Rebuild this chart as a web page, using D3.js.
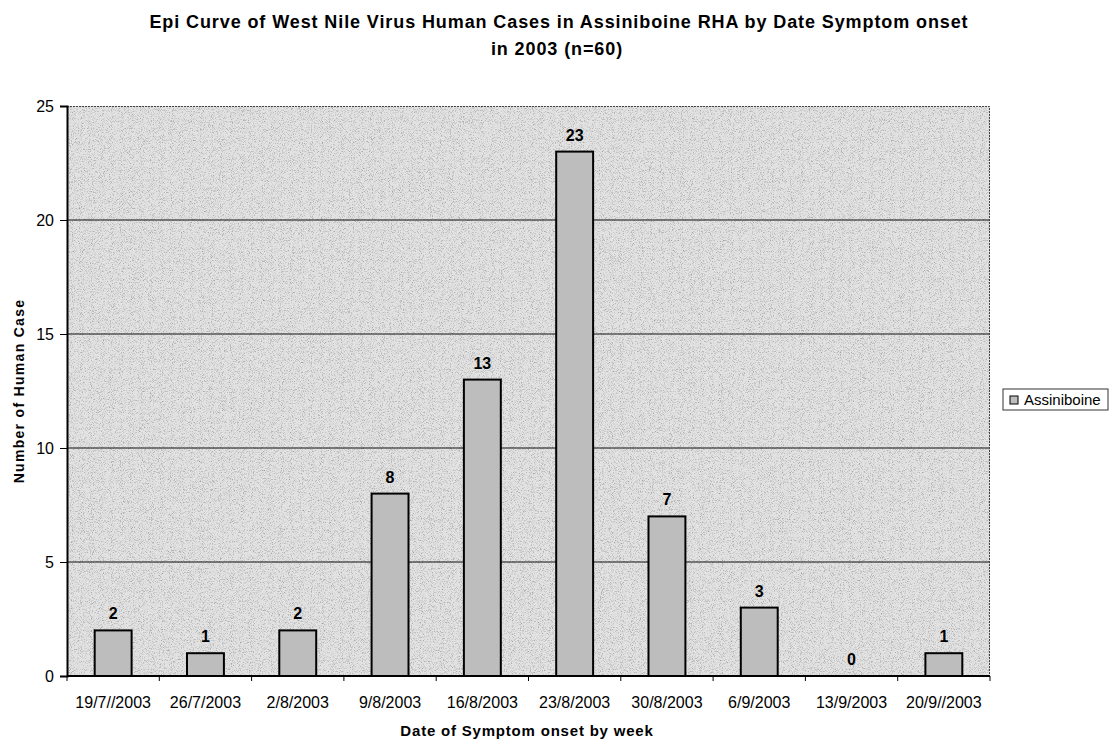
<!DOCTYPE html>
<html>
<head>
<meta charset="utf-8">
<script src="https://cdn.jsdelivr.net/npm/d3@7"></script>
<style>
body{margin:0;background:#fff;}
text{font-family:"Liberation Sans",Arial,sans-serif;}
</style>
</head>
<body>
<svg id="chart"></svg>
<script>
// week of symptom onset and number of cases
var weeks=["19/7//2003","26/7/2003","2/8/2003","9/8/2003","16/8/2003","23/8/2003","30/8/2003","6/9/2003","13/9/2003","20/9//2003"]
var cases=[2,1,2,8,13,23,7,3,0,1]
var yTicks=[0,5,10,15,20,25]

var screen={width:1117,height:744}
var margins={top:106,right:127,bottom:68,left:67}

var svg=d3.select("#chart")
  .attr("width",screen.width)
  .attr("height",screen.height)

var w=screen.width-margins.left-margins.right
var h=screen.height-margins.top-margins.bottom

var defs=svg.append("defs")
// speckled look of the scanned plot area
var f=defs.append("filter").attr("id","grain").attr("x",0).attr("y",0).attr("width","100%").attr("height","100%")
f.append("feTurbulence").attr("type","fractalNoise").attr("baseFrequency",1.1).attr("numOctaves",2).attr("seed",5).attr("result","n")
f.append("feColorMatrix").attr("in","n").attr("type","matrix")
  .attr("values","0 0 0 0 0  0 0 0 0 0  0 0 0 0 0  0 0 0 -2.4 1.2").attr("result","a")
f.append("feComposite").attr("in","a").attr("in2","SourceGraphic").attr("operator","in")

var x=d3.scaleBand().domain(weeks).range([0,w]).paddingInner(0.6).paddingOuter(0.3)
var xEdge=d3.scaleBand().domain(weeks).range([0,w])
var y=d3.scaleLinear().domain([0,25]).range([h,0])

var g=svg.append("g").attr("transform","translate("+margins.left+","+margins.top+")")

// plot area
g.append("rect").attr("width",w).attr("height",h).style("fill","#e2e2e2")
g.append("rect").attr("width",w).attr("height",h).style("fill","#000").attr("filter","url(#grain)").style("opacity",0.33)

// gridlines
g.selectAll(".grid").data(yTicks.filter(function(d){return d>0&&d<25})).enter()
  .append("line").attr("class","grid")
  .attr("x1",0).attr("x2",w)
  .attr("y1",function(d){return y(d)}).attr("y2",function(d){return y(d)})
  .style("stroke","#111").style("stroke-width",1.2)

// border top/right
g.append("path").attr("d","M0,0.5H"+(w-0.5)+"V"+h)
  .style("fill","none").style("stroke","#444").style("stroke-dasharray","2,1")

// bars
g.selectAll(".bar").data(cases).enter()
  .append("rect").attr("class","bar")
  .attr("x",function(d,i){return x(weeks[i])})
  .attr("width",x.bandwidth())
  .attr("y",function(d){return y(d)})
  .attr("height",function(d){return h-y(d)})
  .style("fill","#bdbdbd").style("stroke","#000").style("stroke-width",2)
  .style("display",function(d){return d>0?null:"none"})

// value labels
g.selectAll(".lab").data(cases).enter()
  .append("text").attr("class","lab")
  .attr("x",function(d,i){return x(weeks[i])+x.bandwidth()/2})
  .attr("y",function(d){return y(d)-11})
  .attr("text-anchor","middle")
  .style("font-size","16px").style("font-weight","bold")
  .text(function(d){return d})

// y axis
var yAxis=g.append("g").call(d3.axisLeft(y).tickValues(yTicks).tickSize(7).tickPadding(6))
yAxis.select(".domain").style("stroke-width",2)
yAxis.selectAll("text").style("font-size","16px").style("font-family","Liberation Sans, Arial, sans-serif")

// x axis with ticks at category boundaries
var xa=g.append("g").attr("transform","translate(0,"+h+")")
xa.append("line").attr("x1",0).attr("x2",w).style("stroke","#000").style("stroke-width",2)
xa.selectAll(".tk").data(weeks.concat(["end"])).enter()
  .append("line").attr("class","tk")
  .attr("x1",function(d,i){return i*xEdge.step()}).attr("x2",function(d,i){return i*xEdge.step()})
  .attr("y1",0).attr("y2",5).style("stroke","#000")
xa.selectAll(".xl").data(weeks).enter()
  .append("text").attr("class","xl")
  .attr("x",function(d){return xEdge(d)+xEdge.bandwidth()/2})
  .attr("y",32).attr("text-anchor","middle")
  .style("font-size","16px")
  .text(function(d){return d})

// titles
svg.append("text").attr("x",559).attr("y",28).attr("text-anchor","middle")
  .style("font-size","18px").style("font-weight","bold").style("letter-spacing","0.9px")
  .text("Epi Curve of West Nile Virus Human Cases in Assiniboine RHA by Date Symptom onset")
svg.append("text").attr("x",557).attr("y",55).attr("text-anchor","middle")
  .style("font-size","18px").style("font-weight","bold").style("letter-spacing","0.9px")
  .text("in 2003 (n=60)")
svg.append("text").attr("x",527).attr("y",736).attr("text-anchor","middle")
  .style("font-size","15px").style("font-weight","bold").style("letter-spacing","0.8px")
  .text("Date of Symptom onset by week")
svg.append("text").attr("transform","translate(24,391) rotate(-90)").attr("text-anchor","middle")
  .style("font-size","14px").style("font-weight","bold").style("letter-spacing","1.3px")
  .text("Number of Human Case")

// legend
var lg=svg.append("g").attr("transform","translate(1003,389)")
lg.append("rect").attr("width",105).attr("height",21).style("fill","#fff").style("stroke","#333")
lg.append("rect").attr("x",7).attr("y",7).attr("width",8).attr("height",8).style("fill","#bdbdbd").style("stroke","#000")
lg.append("text").attr("x",21).attr("y",16).style("font-size","15px").text("Assiniboine")
</script>
</body>
</html>
